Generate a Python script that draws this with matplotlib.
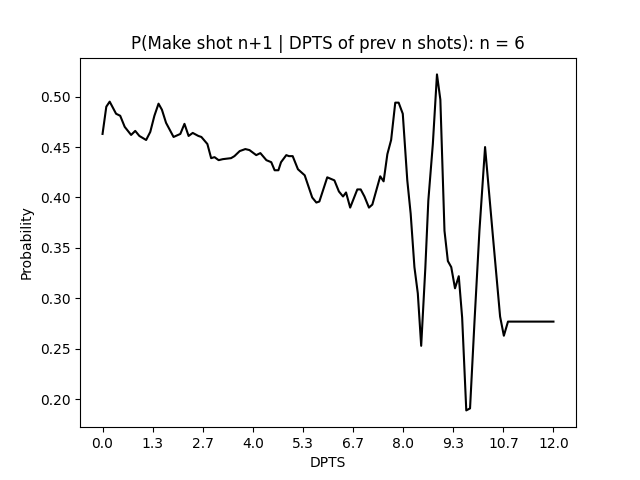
import matplotlib
matplotlib.use("Agg")
import matplotlib.pyplot as plt
import numpy as np

dpts = [0.0, 0.1, 0.19, 0.36, 0.47, 0.59, 0.76, 0.87, 0.98, 1.16, 1.27, 1.38, 1.49, 1.58, 1.69,
        1.89, 2.07, 2.18, 2.29, 2.40, 2.55, 2.63, 2.79, 2.89, 2.98, 3.09, 3.20, 3.42, 3.51, 3.65,
        3.80, 3.91, 4.09, 4.20, 4.36, 4.49, 4.58, 4.68, 4.75, 4.89, 4.96, 5.06, 5.20, 5.38, 5.58,
        5.69, 5.77, 5.98, 6.17, 6.29, 6.40, 6.48, 6.59, 6.78, 6.87, 6.97, 7.09, 7.18, 7.39, 7.48,
        7.58, 7.68, 7.79, 7.88, 7.99, 8.11, 8.20, 8.30, 8.39, 8.48, 8.59, 8.67, 8.79, 8.90, 8.99,
        9.10, 9.19, 9.28, 9.38, 9.48, 9.57, 9.68, 9.78, 9.90, 10.03, 10.18, 10.39, 10.58, 10.68,
        10.79, 12.0]
prob = [0.463, 0.490, 0.495, 0.483, 0.481, 0.470, 0.462, 0.466, 0.461, 0.457, 0.465, 0.481, 0.493, 0.487, 0.474,
        0.460, 0.463, 0.473, 0.461, 0.464, 0.461, 0.460, 0.453, 0.439, 0.440, 0.437, 0.438, 0.439, 0.441, 0.446,
        0.448, 0.447, 0.442, 0.444, 0.437, 0.435, 0.427, 0.427, 0.435, 0.442, 0.441, 0.441, 0.428, 0.422, 0.400,
        0.395, 0.396, 0.420, 0.417, 0.406, 0.401, 0.405, 0.390, 0.408, 0.408, 0.401, 0.390, 0.393, 0.421, 0.416,
        0.443, 0.457, 0.494, 0.494, 0.483, 0.417, 0.384, 0.331, 0.305, 0.253, 0.330, 0.397, 0.453, 0.522, 0.497,
        0.367, 0.337, 0.331, 0.310, 0.322, 0.281, 0.189, 0.191, 0.278, 0.367, 0.450, 0.361, 0.282, 0.263,
        0.277, 0.277]

fig, ax = plt.subplots(figsize=(6.4, 4.8), dpi=100)
ax.plot(dpts, prob, color="black")
ticks = np.linspace(0, 12, 10)
ax.set_xticks(ticks)
ax.set_xticklabels([f"{t:.1f}" for t in ticks])
ax.set_xlabel("DPTS")
ax.set_ylabel("Probability")
ax.set_title("P(Make shot n+1 | DPTS of prev n shots): n = 6")
fig.savefig("out.png")
